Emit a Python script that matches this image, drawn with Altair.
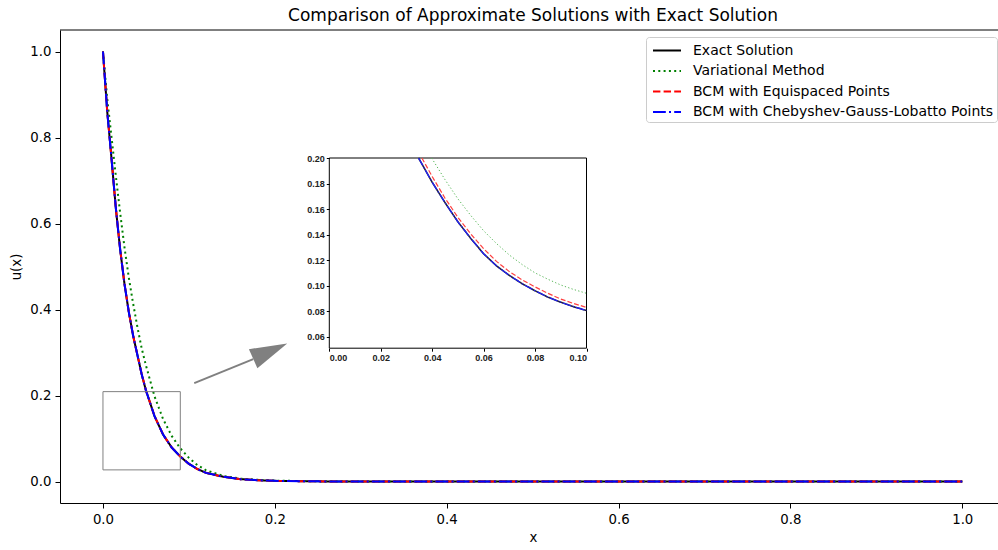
import altair as alt
import pandas as pd

# ---------------- data ----------------
series_names = [
    "Exact Solution",
    "Variational Method",
    "BCM with Equispaced Points",
    "BCM with Chebyshev-Gauss-Lobatto Points",
]
series_colors = ["#000000", "#008000", "#ff0000", "#0000ff"]

# main panel
x_main = [0, 0.005, 0.01, 0.015, 0.02, 0.025, 0.03, 0.035, 0.04, 0.045, 0.05,
          0.06, 0.07, 0.08, 0.09, 0.10, 0.11, 0.12, 0.14, 0.16, 0.18, 0.20,
          0.25, 0.30, 0.40, 0.50, 0.60, 0.70, 0.80, 0.90, 1.00]
exact_main = [1.0, 0.86, 0.75, 0.635, 0.54, 0.46, 0.395, 0.34, 0.295, 0.25, 0.212,
              0.152, 0.109, 0.079, 0.058, 0.041, 0.029, 0.02, 0.011, 0.0055, 0.003, 0.0015,
              0.0003, 0.0, 0.0, 0.0, 0.0, 0.0, 0.0, 0.0, 0.0]
variational_main = [1.0, 0.89, 0.80, 0.71, 0.625, 0.545, 0.475, 0.415, 0.36, 0.31, 0.27,
                    0.198, 0.145, 0.106, 0.077, 0.055, 0.038, 0.026, 0.013, 0.007, 0.004, 0.002,
                    0.0005, 0.0, 0.0, 0.0, 0.0, 0.0, 0.0, 0.0, 0.0]
bcm_equi_main = [1.0, 0.86, 0.75, 0.635, 0.54, 0.46, 0.395, 0.34, 0.295, 0.25, 0.212,
                 0.152, 0.109, 0.079, 0.058, 0.041, 0.029, 0.02, 0.011, 0.0055, 0.003, 0.0015,
                 0.0003, 0.0, 0.0, 0.0, 0.0, 0.0, 0.0, 0.0, 0.0]
bcm_cgl_main = [1.0, 0.86, 0.75, 0.635, 0.54, 0.46, 0.395, 0.34, 0.295, 0.25, 0.212,
                0.152, 0.109, 0.079, 0.058, 0.041, 0.029, 0.02, 0.011, 0.0055, 0.003, 0.0015,
                0.0003, 0.0, 0.0, 0.0, 0.0, 0.0, 0.0, 0.0, 0.0]

# inset panel
x_in_exact = [0.0347, 0.04, 0.045, 0.05, 0.055, 0.06, 0.065, 0.07, 0.075, 0.08, 0.085, 0.09, 0.095, 0.1]
exact_in = [0.2, 0.181, 0.165, 0.150, 0.137, 0.125, 0.1155, 0.108, 0.1015, 0.096, 0.091, 0.087, 0.0835, 0.0805]
bcm_cgl_in = [0.2, 0.181, 0.165, 0.150, 0.137, 0.125, 0.1155, 0.108, 0.1015, 0.096, 0.091, 0.087, 0.0835, 0.0805]
x_in_equi = [0.036, 0.04, 0.045, 0.05, 0.055, 0.06, 0.065, 0.07, 0.075, 0.08, 0.085, 0.09, 0.095, 0.1]
bcm_equi_in = [0.2, 0.1855, 0.1685, 0.1535, 0.1405, 0.129, 0.119, 0.111, 0.1045, 0.099, 0.094, 0.0895, 0.086, 0.083]
x_in_var = [0.0398, 0.045, 0.05, 0.055, 0.06, 0.065, 0.07, 0.075, 0.08, 0.085, 0.09, 0.095, 0.1]
variational_in = [0.2, 0.183, 0.168, 0.155, 0.143, 0.133, 0.124, 0.1165, 0.110, 0.105, 0.1005, 0.097, 0.094]

inset_x_ticks = [0.0, 0.02, 0.04, 0.06, 0.08, 0.10]
inset_y_ticks = [0.06, 0.08, 0.10, 0.12, 0.14, 0.16, 0.18, 0.20]
inset_x_domain = [0.0, 0.1]
inset_y_domain = [0.051, 0.2]

# annotations (data coordinates of the main panel)
box_x = [0.0, 0.09]
box_y = [0.027, 0.209]
arrow_tail = [0.1062, 0.2288]
arrow_base = [0.1749, 0.2847]
arrow_head_center = [0.1946, 0.3033]

main_x_ticks = [0.0, 0.2, 0.4, 0.6, 0.8, 1.0]
main_y_ticks = [0.0, 0.2, 0.4, 0.6, 0.8, 1.0]

# ---------------- layout ----------------
W, H = 938, 473
FONT = "DejaVu Sans"

xs = alt.Scale(domain=[-0.05, 1.0416], nice=False, zero=False)
ys = alt.Scale(domain=[-0.05, 1.05], nice=False, zero=False)

xaxis = alt.Axis(title="x", values=main_x_ticks, format=".1f", tickSize=5, labelPadding=4,
                 titlePadding=5, labelFontSize=13.3, titleFontSize=13.3, titleX=473)
yaxis = alt.Axis(title="u(x)", values=main_y_ticks, format=".1f", tickSize=5, labelPadding=4,
                 titlePadding=6, labelFontSize=13.3, titleFontSize=13.3)

color_scale = alt.Scale(domain=series_names, range=series_colors)
dash_scale = alt.Scale(domain=series_names,
                       range=[[1, 0], [2, 3.3], [7.4, 3.2], [12.8, 3.2, 2, 3.2]])

legend = alt.Legend(title=None, orient="none", legendX=586, legendY=7,
                    symbolType="M-0.684,0L2.263,0", symbolSize=361, symbolStrokeWidth=2,
                    symbolFillColor="transparent",
                    labelFontSize=14, labelFont=FONT, labelColor="#000000",
                    fillColor="white", strokeColor="#cccccc", padding=3,
                    cornerRadius=3, rowPadding=2.5, labelOffset=23, labelLimit=500)


def main_line(name, vals):
    df = pd.DataFrame({"x": x_main, "u": vals, "series": name})
    return alt.Chart(df).mark_line(strokeWidth=2).encode(
        x=alt.X("x:Q", scale=xs, axis=xaxis),
        y=alt.Y("u:Q", scale=ys, axis=yaxis),
        color=alt.Color("series:N", scale=color_scale, legend=legend),
        strokeDash=alt.StrokeDash("series:N", scale=dash_scale, legend=legend),
    )


main_lines = [
    main_line(series_names[0], exact_main),
    main_line(series_names[1], variational_main),
    main_line(series_names[2], bcm_equi_main),
    main_line(series_names[3], bcm_cgl_main),
]

box_df = pd.DataFrame({"x": [box_x[0]], "x2": [box_x[1]], "u": [box_y[0]], "u2": [box_y[1]]})
box = alt.Chart(box_df).mark_rect(fillOpacity=0, stroke="#808080", strokeWidth=1).encode(
    x=alt.X("x:Q", scale=xs, axis=xaxis), x2="x2:Q",
    y=alt.Y("u:Q", scale=ys, axis=yaxis), y2="u2:Q",
)

shaft_df = pd.DataFrame({"x": [arrow_tail[0]], "x2": [arrow_base[0]],
                         "u": [arrow_tail[1]], "u2": [arrow_base[1]]})
shaft = alt.Chart(shaft_df).mark_rule(color="#808080", strokeWidth=2).encode(
    x=alt.X("x:Q", scale=xs, axis=xaxis), x2="x2:Q",
    y=alt.Y("u:Q", scale=ys, axis=yaxis), y2="u2:Q",
)

head_df = pd.DataFrame({"x": [arrow_head_center[0]], "u": [arrow_head_center[1]]})
head = alt.Chart(head_df).mark_point(
    shape="M1,0L-1,-0.56L-1,0.56Z", filled=True, size=1390, angle=336,
    color="#808080", opacity=1, strokeWidth=0,
).encode(
    x=alt.X("x:Q", scale=xs, axis=xaxis),
    y=alt.Y("u:Q", scale=ys, axis=yaxis),
)

top_spine = alt.Chart(pd.DataFrame({"a": [0]})).mark_rule(color="black", strokeWidth=1).encode(
    x=alt.value(0), x2=alt.value(W), y=alt.value(0)
)

main = alt.layer(*main_lines, box, shaft, head, top_spine)

# ---------------- inset ----------------
xs_in = alt.Scale(domain=inset_x_domain, range=[269.3, 526.5], nice=False, zero=False)
ys_in = alt.Scale(domain=inset_y_domain, range=[318.2, 128], nice=False, zero=False)

xaxis_in = alt.Axis(orient="bottom", offset=-(H - 318.2), values=inset_x_ticks, format=".2f",
                    title=None, tickSize=3, labelPadding=2, labelFontSize=9, domain=False,
                    labelFont="Liberation Sans", labelFontWeight="bold", zindex=1,
                    labelColor="#222222")
yaxis_in = alt.Axis(orient="left", offset=-269.3, values=inset_y_ticks, format=".2f",
                    title=None, tickSize=3, labelPadding=2, labelFontSize=9, domain=False,
                    labelFont="Liberation Sans", labelFontWeight="bold", zindex=1,
                    labelColor="#222222")

frame_df = pd.DataFrame({"x": [inset_x_domain[0]], "x2": [inset_x_domain[1]],
                         "u": [inset_y_domain[0]], "u2": [inset_y_domain[1]]})
frame = alt.Chart(frame_df).mark_rect(fill="white", stroke="black", strokeWidth=1).encode(
    x=alt.X("x:Q", scale=xs_in, axis=xaxis_in), x2="x2:Q",
    y=alt.Y("u:Q", scale=ys_in, axis=yaxis_in), y2="u2:Q",
)


def inset_line(xv, yv, color, dash, width):
    df = pd.DataFrame({"x": xv, "u": yv})
    return alt.Chart(df).mark_line(strokeWidth=width, color=color, strokeDash=dash).encode(
        x=alt.X("x:Q", scale=xs_in, axis=xaxis_in),
        y=alt.Y("u:Q", scale=ys_in, axis=yaxis_in),
    )


inset = alt.layer(
    frame,
    inset_line(x_in_exact, exact_in, "#202040", [1, 0], 1.6),
    inset_line(x_in_var, variational_in, "#5cb85c", [1.3, 2.2], 1),
    inset_line(x_in_equi, bcm_equi_in, "#ff4040", [4.9, 2.1], 1.2),
    inset_line(x_in_exact, bcm_cgl_in, "#2020ff", [8.5, 2.1, 1.3, 2.1], 1.2),
)

chart = alt.layer(main, inset).resolve_scale(x="independent", y="independent").properties(
    width=W, height=H,
    title=alt.TitleParams("Comparison of Approximate Solutions with Exact Solution",
                          fontSize=17, font=FONT, fontWeight="normal", anchor="middle",
                          offset=5, dx=4, color="#000000"),
    autosize=alt.AutoSizeParams(type="none"),
    padding={"left": 60, "top": 30, "right": 0, "bottom": 47},
).configure_axis(
    labelFont=FONT, titleFont=FONT, labelColor="#000000", titleColor="#000000",
    tickColor="#000000", domainColor="#000000", grid=False, titleFontWeight="normal",
).configure_view(strokeWidth=0)

chart.save("out.html", embed_options={"renderer": "svg", "actions": False})
